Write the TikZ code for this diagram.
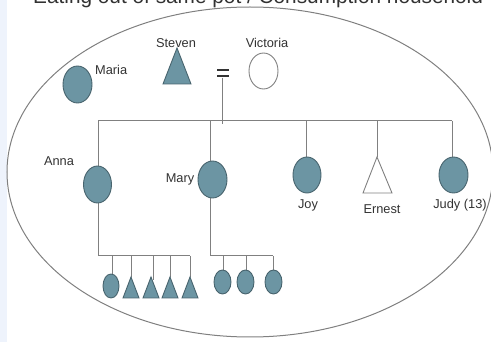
\documentclass[tikz,border=0pt]{standalone}
\usepackage{fontspec}
\setmainfont{Liberation Sans}
\usetikzlibrary{shapes.geometric}
\definecolor{fillblue}{RGB}{108,149,163}
\definecolor{edgeblue}{RGB}{72,100,110}
\definecolor{linegray}{RGB}{128,128,128}
\definecolor{txtgray}{RGB}{50,50,50}
\definecolor{stripblue}{RGB}{238,243,252}
\tikzset{
  person/.style={ellipse, draw=edgeblue, fill=fillblue, line width=0.9pt, inner sep=0pt},
  openperson/.style={ellipse, draw=linegray, fill=white, line width=0.9pt, inner sep=0pt},
  bigp/.style={minimum width=29pt, minimum height=37pt},
  smallp/.style={minimum width=17pt, minimum height=24pt},
  tri/.style={draw=edgeblue, fill=fillblue, line width=0.9pt, line join=miter},
  opentri/.style={draw=linegray, fill=white, line width=0.9pt},
  conn/.style={draw=linegray, line width=1pt},
  lbl/.style={text=txtgray, font=\fontsize{12.8}{14}\selectfont, inner sep=0pt},
}
\begin{document}
\begin{tikzpicture}[x=1pt,y=-1pt]
\useasboundingbox (0,0) rectangle (491,342);
\fill[stripblue] (0,0) rectangle (7,342);
\node[anchor=base west, text=txtgray, inner sep=0pt, font=\fontsize{20.8}{24}\selectfont] (title) at (33,4) {Eating out of same pot / Consumption household};
\node[ellipse, draw=linegray, line width=1pt, minimum width=486pt, minimum height=330pt, inner sep=0pt] (household) at (250,172) {};

% first generation
\node[person, bigp] (maria) at (77.5,84.5) {};
\node[lbl, anchor=west] (marial) at (95,70) {Maria};
\coordinate (stevenapex) at (177,48);
\draw[tri] (stevenapex) -- (191,84) -- (163,84) -- cycle;
\node[lbl] (stevenl) at (176,43) {Steven};
\node[openperson, bigp, minimum height=36pt] (victoria) at (263.5,71) {};
\node[lbl] (victorial) at (267,43) {Victoria};
\node[inner sep=0pt, minimum width=12pt, minimum height=9pt] (eq) at (223,73) {};
\fill[black!80] (217,69) rectangle (229,71.2);
\fill[black!80] (217,75) rectangle (229,77.2);

% sibling bar
\coordinate (barA) at (98,121);
\coordinate (barJ) at (452,121);
\coordinate (barM) at (222,121);
\coordinate (eqbot) at (222,124);
\draw[conn] (eq.south -| barM) -- (eqbot);
\draw[conn] (barA) -- (barJ);

% children
\coordinate (annabot) at (98,256);
\coordinate (marybot) at (210,256);
\coordinate (maryt) at (210,121);
\coordinate (joyt) at (306,121);
\coordinate (ernestt) at (377,121);
\coordinate (ernestapex) at (377,157);
\draw[conn] (barA) -- (annabot);
\draw[conn] (maryt) -- (marybot);
\draw[conn] (joyt) -- (306,170);
\draw[conn] (ernestt) -- (ernestapex);
\draw[conn] (barJ) -- (452,160);

\node[person, bigp, minimum width=28pt] (anna) at (97.5,184.5) {};
\node[lbl] (annal) at (59,161) {Anna};
\node[person, bigp] (mary) at (212.5,179.5) {};
\node[lbl] (maryl) at (180,179) {Mary};
\node[person, bigp, minimum width=28pt, minimum height=36pt] (joy) at (307,175) {};
\node[lbl] (joyl) at (308,205) {Joy};
\draw[opentri] (ernestapex) -- (392,193) -- (363,193) -- cycle;
\node[lbl] (ernestl) at (382,209) {Ernest};
\node[person, bigp, minimum height=36pt] (judy) at (453.5,175) {};
\node[lbl] (judyl) at (460,205) {Judy (13)};

% Anna's children
\coordinate (ag1) at (112,256);
\coordinate (ag2) at (131,256);
\coordinate (ag3) at (153,256);
\coordinate (ag4) at (170,256);
\coordinate (ag5) at (190,256);
\draw[conn] (annabot) -- (ag5);
\draw[conn] (ag1) -- ++(0,22);
\draw[conn] (ag2) -- ++(0,21);
\draw[conn] (ag3) -- ++(0,24);
\draw[conn] (ag4) -- ++(0,21);
\draw[conn] (ag5) -- ++(0,21);
\node[person, smallp, minimum width=16pt] (a1) at (111,286) {};
\draw[tri] (131,277) -- (139,298) -- (123,298) -- cycle;
\draw[tri] (151,277) -- (159,298) -- (143,298) -- cycle;
\draw[tri] (170,277) -- (178,298) -- (162,298) -- cycle;
\draw[tri] (190,277) -- (198,298) -- (182,298) -- cycle;

% Mary's children
\coordinate (mg1) at (223,256);
\coordinate (mg2) at (246,256);
\coordinate (mg3) at (273,256);
\draw[conn] (marybot) -- (mg3);
\draw[conn] (mg1) -- ++(0,16);
\draw[conn] (mg2) -- ++(0,16);
\draw[conn] (mg3) -- ++(0,16);
\node[person, smallp] (m1) at (222.5,282) {};
\node[person, smallp] (m2) at (245.5,282) {};
\node[person, smallp] (m3) at (273.5,282) {};
\end{tikzpicture}
\end{document}
